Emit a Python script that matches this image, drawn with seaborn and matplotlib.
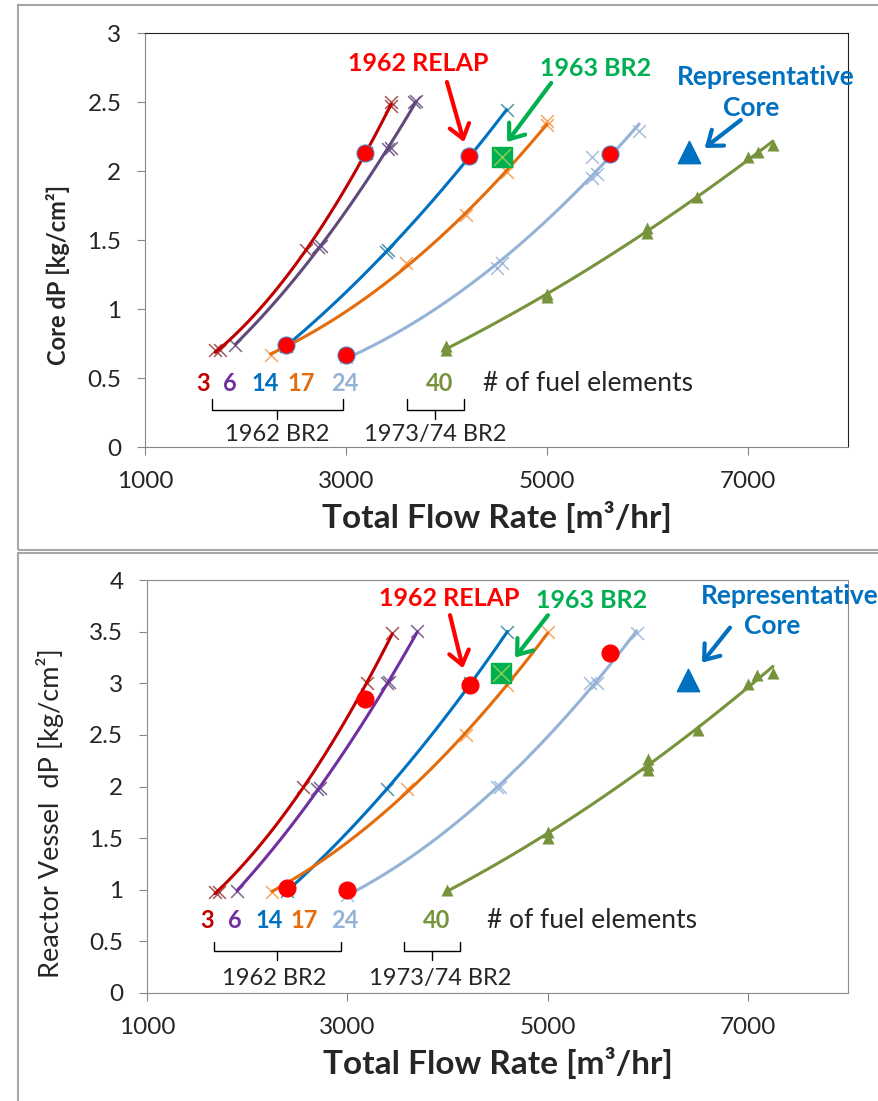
import numpy as np
import pandas as pd
import seaborn as sns
import matplotlib.pyplot as plt
from matplotlib.patches import Rectangle
from matplotlib.ticker import FuncFormatter

# number of fuel elements per curve
n_fuel = ['3', '6', '14', '17', '24', '40']
label_colors = ['#C00000', '#7030A0', '#0070C0', '#E46C0A', '#95B3D7', '#77933C']
marker_colors = ['#953735', '#604A7B', '#31859C', '#F79646', '#95B3D7', '#77933C']
core_line_colors = ['#C00000', '#604A7B', '#0070C0', '#E46C0A', '#95B3D7', '#77933C']
rv_line_colors = ['#C00000', '#7030A0', '#0070C0', '#E46C0A', '#95B3D7', '#77933C']

# ---- Core dP (top panel), flow in m3/hr, dP in kg/cm2
core_3_flow = [1700, 1750, 2600, 3200, 3450, 3450]
core_3_dp = [0.70, 0.70, 1.43, 2.13, 2.47, 2.50]
core_6_flow = [1900, 2720, 2750, 3420, 3450, 3680, 3700]
core_6_dp = [0.74, 1.45, 1.46, 2.16, 2.17, 2.50, 2.51]
core_14_flow = [2400, 3400, 3420, 4230, 4600]
core_14_dp = [0.73, 1.41, 1.43, 2.11, 2.44]
core_17_flow = [2250, 3600, 4200, 4600, 5000, 5000]
core_17_dp = [0.67, 1.33, 1.68, 1.99, 2.33, 2.36]
core_24_flow = [3000, 4500, 4550, 5450, 5500, 5450, 5920]
core_24_dp = [0.65, 1.30, 1.33, 1.95, 1.98, 2.10, 2.29]
core_40_flow = [4000, 4000, 5000, 5000, 6000, 6000, 6500, 7000, 7100, 7250]
core_40_dp = [0.70, 0.73, 1.09, 1.11, 1.55, 1.59, 1.81, 2.10, 2.14, 2.19]
core_relap_flow = [2400, 3000, 3190, 4230, 5630]
core_relap_dp = [0.74, 0.67, 2.13, 2.11, 2.12]
core_br2_1963 = (4550, 2.10)
core_rep = (6420, 2.14)

# ---- Reactor vessel dP (bottom panel)
rv_3_flow = [1680, 1720, 2560, 3200, 3450]
rv_3_dp = [0.98, 0.98, 2.00, 3.00, 3.49]
rv_6_flow = [1900, 2700, 2730, 3400, 3420, 3700]
rv_6_dp = [0.99, 1.98, 1.99, 3.00, 3.01, 3.51]
rv_14_flow = [2400, 3400, 4230, 4600]
rv_14_dp = [0.99, 1.98, 3.00, 3.50]
rv_17_flow = [2250, 3600, 4190, 4600, 5000]
rv_17_dp = [0.98, 1.98, 2.50, 2.98, 3.50]
rv_24_flow = [3000, 4500, 4530, 5420, 5490, 5890]
rv_24_dp = [0.95, 2.00, 2.00, 3.00, 3.00, 3.49]
rv_40_flow = [4000, 5000, 5000, 6000, 6000, 6000, 6500, 7000, 7090, 7250]
rv_40_dp = [1.00, 1.50, 1.56, 2.16, 2.21, 2.27, 2.55, 2.99, 3.08, 3.10]
rv_relap_flow = [2400, 3000, 3180, 4230, 5620]
rv_relap_dp = [1.02, 1.00, 2.85, 2.98, 3.29]
rv_br2_1963 = (4540, 3.10)
rv_rep = (6400, 3.03)

core_curves = [(core_3_flow, core_3_dp), (core_6_flow, core_6_dp), (core_14_flow, core_14_dp),
               (core_17_flow, core_17_dp), (core_24_flow, core_24_dp), (core_40_flow, core_40_dp)]
rv_curves = [(rv_3_flow, rv_3_dp), (rv_6_flow, rv_6_dp), (rv_14_flow, rv_14_dp),
             (rv_17_flow, rv_17_dp), (rv_24_flow, rv_24_dp), (rv_40_flow, rv_40_dp)]

sns.set_style("ticks")
plt.rcParams['font.family'] = ['Lato', 'DejaVu Sans']

fig = plt.figure(figsize=(8.79, 11.01), dpi=100)
ax1 = fig.add_axes([0.165, 0.594, 0.7998, 0.376])
ax2 = fig.add_axes([0.1672, 0.0981, 0.7975, 0.375])

# chart frames like excel
fig.patches.append(Rectangle((0.0205, 0.5005), 1.0, 0.495, transform=fig.transFigure,
                             fill=False, edgecolor='#A6A6A6', lw=1.5))
fig.patches.append(Rectangle((0.0205, -0.01), 1.0, 0.508, transform=fig.transFigure,
                             fill=False, edgecolor='#A6A6A6', lw=1.5))


def draw_panel(ax, curves, line_colors, relap_flow, relap_dp, br2, rep, relap_edge):
    for (flow, dp), n, mc, lc in zip(curves, n_fuel, marker_colors, line_colors):
        df = pd.DataFrame({'flow': flow, 'dp': dp})
        if n == '40':
            skw = dict(color=mc, s=75, linewidths=0, alpha=1)
            mk = '^'
        else:
            skw = dict(color=mc, s=85, linewidths=1.1, alpha=0.85)
            mk = 'x'
        sns.regplot(data=df, x='flow', y='dp', order=2, ci=None, marker=mk, ax=ax,
                    scatter_kws=skw, line_kws=dict(color=lc, lw=2.2))
    sns.scatterplot(x=relap_flow, y=relap_dp, color='#FF0000', s=150, edgecolor=relap_edge,
                    linewidth=0.8, zorder=5, ax=ax)
    ax.scatter([br2[0]], [br2[1]], marker='s', s=190, color='#00B050', zorder=5)
    ax.scatter([br2[0]], [br2[1]], marker='x', s=150, color='#92D050', linewidths=1, zorder=6)
    ax.scatter([rep[0]], [rep[1]], marker='^', s=260, color='#0070C0', zorder=5)

    ax.set_xlim(1000, 8000)
    ax.set_xticks([1000, 3000, 5000, 7000])
    ax.yaxis.set_major_formatter(FuncFormatter(lambda v, p: '%g' % v))
    ax.tick_params(axis='both', direction='out', length=6, color='#868686', labelsize=17.5, pad=11)
    ax.set_xlabel('Total Flow Rate [m³/hr]', fontsize=24, fontweight='bold', labelpad=7)


def bracket(ax, x0, x1, ytop, ybot, ytick):
    ax.plot([x0, x0, x1, x1], [ytop, ybot, ybot, ytop], color='black', lw=1)
    ax.plot([(x0 + x1) / 2] * 2, [ybot, ytick], color='black', lw=1)


def arrow(ax, tail, head, color):
    ax.annotate('', xy=head, xytext=tail,
                arrowprops=dict(arrowstyle='->,head_length=0.6,head_width=0.45', color=color,
                                lw=3, mutation_scale=16, shrinkA=0, shrinkB=0))


# ---------- top panel
draw_panel(ax1, core_curves, core_line_colors, core_relap_flow, core_relap_dp,
           core_br2_1963, core_rep, '#4F81BD')
ax1.set_ylim(0, 3)
ax1.set_yticks(np.arange(0, 3.01, 0.5))
ax1.set_ylabel('Core dP [kg/cm²]', fontsize=17, fontweight='bold')
ax1.yaxis.set_label_coords(-0.107, 0.415)
for side in ['top', 'right']:
    ax1.spines[side].set_color('#202020')
for side in ['left', 'bottom']:
    ax1.spines[side].set_color('#868686')

ax1.text(3720, 2.78, '1962 RELAP', color='#FF0000', fontsize=18, fontweight='bold', ha='center', va='center')
arrow(ax1, (4006, 2.645), (4176, 2.21), '#FF0000')
ax1.text(5484, 2.746, '1963 BR2', color='#00B050', fontsize=18, fontweight='bold', ha='center', va='center')
arrow(ax1, (5044, 2.638), (4605, 2.21), '#00B050')
ax1.text(7181, 2.68, 'Representative', color='#0070C0', fontsize=19, fontweight='bold',
         ha='center', va='center', clip_on=False)
ax1.text(7031, 2.457, 'Core', color='#0070C0', fontsize=19, fontweight='bold', ha='center', va='center')
arrow(ax1, (6932, 2.37), (6572, 2.167), '#0070C0')

for lab, xx, c in zip(n_fuel, [1579, 1849, 2199, 2559, 2988, 3936], label_colors):
    ax1.text(xx, 0.46, lab, color=c, fontsize=17, fontweight='bold', ha='center', va='center')
ax1.text(4365, 0.46, '# of fuel elements', fontsize=19, ha='left', va='center')
bracket(ax1, 1669, 2967, 0.348, 0.268, 0.203)
bracket(ax1, 3607, 4176, 0.348, 0.268, 0.203)
ax1.text(2318, 0.094, '1962 BR2', fontsize=17, ha='center', va='center')
ax1.text(3886, 0.094, '1973/74 BR2', fontsize=17, ha='center', va='center')

# ---------- bottom panel
draw_panel(ax2, rv_curves, rv_line_colors, rv_relap_flow, rv_relap_dp,
           rv_br2_1963, rv_rep, '#FF0000')
ax2.set_ylim(0, 4)
ax2.set_yticks(np.arange(0, 4.01, 0.5))
ax2.set_ylabel('Reactor Vessel  dP [kg/cm²]', fontsize=19.5)
ax2.yaxis.set_label_coords(-0.118, 0.435)
for side in ['top', 'right', 'left', 'bottom']:
    ax2.spines[side].set_color('#8C8C8C')

ax2.text(4016, 3.82, '1962 RELAP', color='#FF0000', fontsize=18, fontweight='bold', ha='center', va='center')
arrow(ax2, (4026, 3.66), (4156, 3.146), '#FF0000')
ax2.text(5444, 3.80, '1963 BR2', color='#00B050', fontsize=18, fontweight='bold', ha='center', va='center')
arrow(ax2, (5004, 3.66), (4675, 3.25), '#00B050')
ax2.text(7421, 3.85, 'Representative', color='#0070C0', fontsize=19, fontweight='bold',
         ha='center', va='center', clip_on=False)
ax2.text(7241, 3.56, 'Core', color='#0070C0', fontsize=19, fontweight='bold', ha='center', va='center')
arrow(ax2, (6822, 3.54), (6542, 3.20), '#0070C0')

for lab, xx, c in zip(n_fuel, [1599, 1879, 2218, 2568, 2977, 3896], label_colors):
    ax2.text(xx, 0.70, lab, color=c, fontsize=17, fontweight='bold', ha='center', va='center')
ax2.text(4395, 0.70, '# of fuel elements', fontsize=19, ha='left', va='center')
bracket(ax2, 1669, 2937, 0.49, 0.41, 0.32)
bracket(ax2, 3566, 4126, 0.49, 0.41, 0.32)
ax2.text(2268, 0.145, '1962 BR2', fontsize=17, ha='center', va='center')
ax2.text(3926, 0.145, '1973/74 BR2', fontsize=17, ha='center', va='center')

fig.savefig('out.png', dpi=100)
